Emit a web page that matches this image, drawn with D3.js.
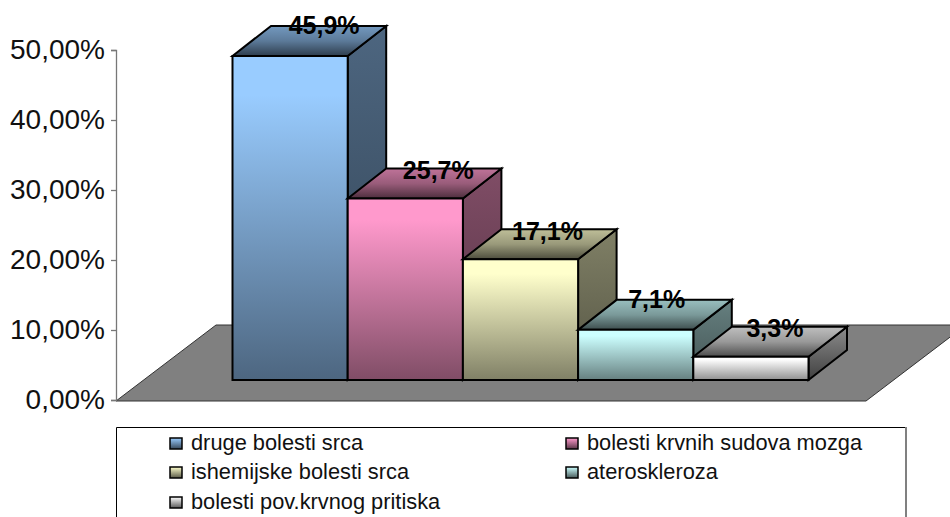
<!DOCTYPE html>
<html><head><meta charset="utf-8">
<script src="https://cdn.jsdelivr.net/npm/d3@7/dist/d3.min.js"></script>
<style>html,body{margin:0;padding:0;background:#fff;overflow:hidden}svg{display:block;font-family:"Liberation Sans",Arial,sans-serif}</style>
</head><body>
<svg id="c" width="950" height="517"></svg>
<script>
const categories = ["druge bolesti srca","bolesti krvnih sudova mozga","ishemijske bolesti srca","ateroskleroza","bolesti pov.krvnog pritiska"];
const values = [45.9,25.7,17.1,7.1,3.3];
const valueLabels = ["45,9%","25,7%","17,1%","7,1%","3,3%"];
const colors = ["#99CCFF","#FF99CC","#FFFFCC","#CCFFFF","#FFFFFF"];
const axisTicks = [0,10,20,30,40,50];
const axisTickLabels = ["0,00%","10,00%","20,00%","30,00%","40,00%","50,00%"];

const svg = d3.select("#c");
const defs = svg.append("defs");
const depthX = 38.5, depthY = 30;
const axisY = d3.scaleLinear().domain([0,50]).range([400,50]);
const barY = d3.scaleLinear().domain([0,50]).range([380,27]);
const x = d3.scaleBand().domain(categories).range([232.5,808.5]).padding(0);
const shade = (c,k)=>{const r=d3.rgb(c);return d3.rgb(r.r*k,r.g*k,r.b*k).formatHex();};

function grad(id,stops){
  const g=defs.append("linearGradient").attr("id",id).attr("x1",0).attr("y1",0).attr("x2",0).attr("y2",1);
  stops.forEach(([o,c])=>g.append("stop").attr("offset",o).attr("stop-color",c));
}
colors.forEach((c,i)=>{
  grad("f"+i,[[0,c],[0.12,c],[1,shade(c,i===4?0.56:0.5)]]);
  grad("s"+i,[[0,shade(c,i===4?0.55:0.5)],[1,shade(c,i===4?0.25:0.33)]]);
  grad("t"+i,[[0,shade(c,0.75)],[0.5,shade(c,0.6)],[1,shade(c,0.3)]]);
  grad("l"+i,[[0,c],[1,shade(c,0.35)]]);
});

// floor
svg.append("path").attr("d",d3.line()([[116,401],[866,401],[966,325],[216,325]])+"Z")
  .attr("fill","#808080").attr("stroke","#333").attr("stroke-width",1);

// axis
const axis = d3.axisLeft(axisY).tickValues(axisTicks).tickFormat((d,i)=>axisTickLabels[i]).tickSize(5).tickPadding(6);
const ag = svg.append("g").attr("transform","translate(116,0)").call(axis);
ag.selectAll("path,line").attr("stroke","#777").attr("stroke-width",1.3);
ag.selectAll("text").attr("font-size",28).attr("fill","#111").attr("font-family",'"Liberation Sans",Arial,sans-serif');

// bars
const stroke = {stroke:"#000","stroke-width":2,"stroke-linejoin":"miter"};
const labelNudgeX = [34,33,27,21,24];
const labelLift = [22,20,19,22,20];
const base = barY(0);
categories.forEach((cat,i)=>{
  const x0=x(cat), x1=x0+x.bandwidth(), yt=barY(values[i]);
  const g=svg.append("g");
  const poly=(pts,fill)=>{const p=g.append("path").attr("d",d3.line()(pts)+"Z").attr("fill",fill);Object.entries(stroke).forEach(([k,v])=>p.attr(k,v));};
  poly([[x1,yt],[x1+depthX,yt-depthY],[x1+depthX,base-depthY],[x1,base]],`url(#s${i})`);
  poly([[x0,yt],[x0+depthX,yt-depthY],[x1+depthX,yt-depthY],[x1,yt]],`url(#t${i})`);
  poly([[x0,yt],[x1,yt],[x1,base],[x0,base]],`url(#f${i})`);
});
categories.forEach((cat,i)=>{
  svg.append("text").attr("x",x(cat)+x.bandwidth()/2+labelNudgeX[i]).attr("y",barY(values[i])-labelLift[i])
    .attr("text-anchor","middle").attr("font-size",25).attr("font-weight","bold").attr("fill","#000").text(valueLabels[i]);
});

// legend
svg.append("path").attr("d","M116.5,517V427.5H905").attr("fill","none").attr("stroke","#000").attr("stroke-width",1);
svg.append("line").attr("x1",906).attr("x2",906).attr("y1",427).attr("y2",517).attr("stroke","#808080").attr("stroke-width",2);
const legendCol=[170,566], legendRow=[443,472,502];
categories.forEach((cat,i)=>{
  const lx=legendCol[i%2], ly=legendRow[Math.floor(i/2)];
  svg.append("rect").attr("x",lx).attr("y",ly-5).attr("width",12).attr("height",11)
    .attr("fill",`url(#l${i})`).attr("stroke","#000").attr("stroke-width",1.5);
  svg.append("text").attr("x",lx+21).attr("y",ly+7).attr("font-size",21.8).attr("fill","#111").text(cat);
});
</script>
</body></html>
